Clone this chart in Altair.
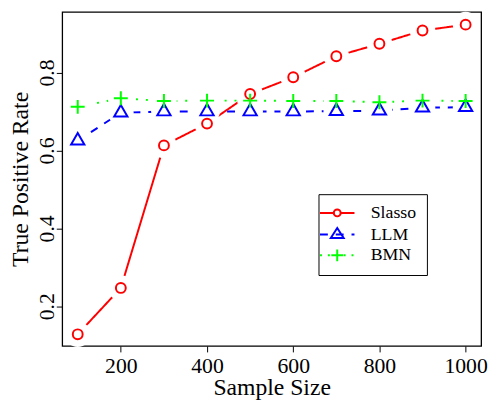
import altair as alt
import pandas as pd

# ---- data ----
sample_sizes = [100, 200, 300, 400, 500, 600, 700, 800, 900, 1000]
slasso = [0.128, 0.247, 0.613, 0.669, 0.745, 0.788, 0.842, 0.874, 0.908, 0.923]
llm = [0.625, 0.697, 0.700, 0.700, 0.700, 0.700, 0.701, 0.702, 0.710, 0.711]
bmn = [0.712, 0.734, 0.727, 0.728, 0.728, 0.727, 0.727, 0.724, 0.728, 0.727]
methods = ["Slasso", "LLM", "BMN"]
colors = ["#FF0000", "#0000FF", "#00FF00"]
dashes = [[1, 0], [8, 8], [2, 8]]
x_ticks = [200, 400, 600, 800, 1000]
y_ticks = [0.2, 0.4, 0.6, 0.8]

rows = []
for m, vals in zip(methods, [slasso, llm, bmn]):
    for n, v in zip(sample_sizes, vals):
        rows.append({"n": n, "rate": v, "method": m})
df = pd.DataFrame(rows)

# marker shapes (R pch 1, 2, 3) in unit coordinates
CIRCLE = "M1,0A1,1,0,1,1,-1,0A1,1,0,1,1,1,0Z"
TRIANGLE = "M0,-1.555L1.347,0.778L-1.347,0.778Z"
PLUS = "M-1.414,0L1.414,0M0,-1.414L0,1.414"
markers = [CIRCLE, TRIANGLE, PLUS]

# legend symbols: line segment + marker
LEG_SLASSO = "M-2.5,0L-0.5,0M0.5,0L2.5,0M0.5,0A0.5,0.5,0,1,1,-0.5,0A0.5,0.5,0,1,1,0.5,0"
LEG_LLM = "M-2.5,0L-1.357,0M-0.214,0L0.929,0M2.071,0L2.5,0M0,-0.95L0.93,0.5L-0.93,0.5Z"
LEG_BMN = ("M-2.5,0L-2.214,0M-1.357,0L-1.071,0M0.929,0L1.214,0M2.071,0L2.357,0"
           "M-0.857,0L0.857,0M0,-0.857L0,0.857")
legend_symbols = [LEG_SLASSO, LEG_LLM, LEG_BMN]

FONT = "Liberation Serif"

x = alt.X(
    "n:Q",
    scale=alt.Scale(domain=[64, 1036], nice=False, zero=False),
    axis=alt.Axis(values=x_ticks, format="d", title="Sample Size",
                  labelFont=FONT, labelFontSize=22, labelBaseline="top",
                  labelPadding=4, titleY=49.6, titleBaseline="alphabetic"),
)
y = alt.Y(
    "rate:Q",
    scale=alt.Scale(domain=[0.098, 0.956], nice=False, zero=False),
    axis=alt.Axis(values=y_ticks, format=".1f", title="True Positive Rate",
                  labelFont=FONT, labelFontSize=22,
                  labelAngle=270, labelAlign="center", labelBaseline="alphabetic",
                  labelPadding=3, titleX=-35, titleBaseline="alphabetic"),
)
color_scale = alt.Scale(domain=methods, range=colors)

LEGEND = alt.Legend(
    orient="none", legendX=260, legendY=185, title=None,
    strokeColor="black", fillColor="white", padding=10,
    labelFont=FONT, labelFontSize=18, labelColor="black",
    symbolSize=196, symbolStrokeWidth=2, rowPadding=2, labelOffset=25,
    symbolFillColor="transparent",
)
color = alt.Color("method:N", scale=color_scale, legend=LEGEND)

base = alt.Chart(df)

line_layers = []
for m, d in zip(methods, dashes):
    line_layers.append(
        base.transform_filter(alt.datum.method == m)
        .mark_line(strokeWidth=2, strokeDash=d)
        .encode(x=x, y=y, color=color)
    )

masks = base.mark_point(shape="circle", filled=True, size=676, color="white",
                        opacity=1, strokeWidth=0).encode(x=x, y=y, detail="method:N")

point_layers = []
for m, shp in zip(methods, markers):
    point_layers.append(
        base.transform_filter(alt.datum.method == m)
        .mark_point(filled=False, size=100, strokeWidth=2, opacity=1, shape=shp)
        .encode(x=x, y=y, color=color)
    )

# legend carrier: no rows, only provides the merged colour/shape legend symbols
legend_layer = (
    base.transform_filter(alt.datum.n < 0)
    .mark_point(filled=False, strokeWidth=2, opacity=1)
    .encode(
        x=x, y=y, color=color,
        shape=alt.Shape("method:N", scale=alt.Scale(domain=methods, range=legend_symbols),
                        legend=LEGEND),
    )
)

chart = (
    alt.layer(*line_layers, masks, *point_layers, legend_layer)
    .properties(width=425, height=339,
                autosize=alt.AutoSizeParams(type="none"),
                padding={"left": 55, "top": 1, "right": 10, "bottom": 58})
    .configure_view(stroke="black", strokeWidth=1.3)
    .configure_axis(labelFont=FONT, labelFontSize=22, labelColor="black",
                    titleFont=FONT, titleFontSize=24, titleColor="black",
                    titleFontWeight="normal", tickColor="black", tickSize=6,
                    tickWidth=1, domain=False, grid=False)
)
chart.save("out.html", embed_options={"renderer": "svg", "actions": False})
